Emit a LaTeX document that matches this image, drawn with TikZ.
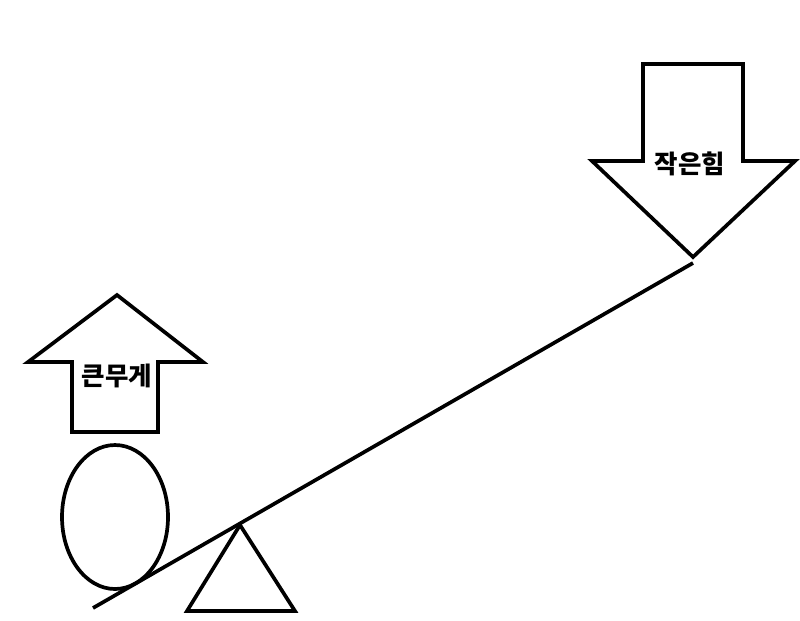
\documentclass[tikz,border=0pt]{standalone}
\usepackage{fontspec}
\newfontfamily\krfont{Noto Sans CJK KR}
\tikzset{
	outline/.style={draw=black, line width=2.1pt, line join=miter},
	label/.style={font=\krfont\bfseries\fontsize{14.5}{17}\selectfont, inner sep=0pt}
}
\begin{document}
\begin{tikzpicture}[x=0.02cm, y=-0.02cm]
		\useasboundingbox (0,0) rectangle (800,620);
		
		% up arrow (left)
		\draw[outline] (72,432) -- (72,362) -- (28,362) -- (117,295) -- (203,362) -- (158,362) -- (158,432) -- cycle;
		\node[label] (big) at (117,376) {큰무게};
		
		% down arrow (right)
		\draw[outline] (643,64) -- (643,161) -- (592,161) -- (693,257) -- (795,161) -- (743,161) -- (743,64) -- cycle;
		\node[label] (small) at (690,164) {작은힘};
		
		% weight
		\draw[outline] (115,517) ellipse[x radius=53, y radius=72];
		
		% lever and fulcrum
		\coordinate (leverL) at (93,608);
		\coordinate (leverR) at (693,263);
		\draw[outline] (leverL) -- (leverR);
		\draw[outline] (240,525) -- (187,611) -- (295,611) -- cycle;
\end{tikzpicture}
\end{document}
